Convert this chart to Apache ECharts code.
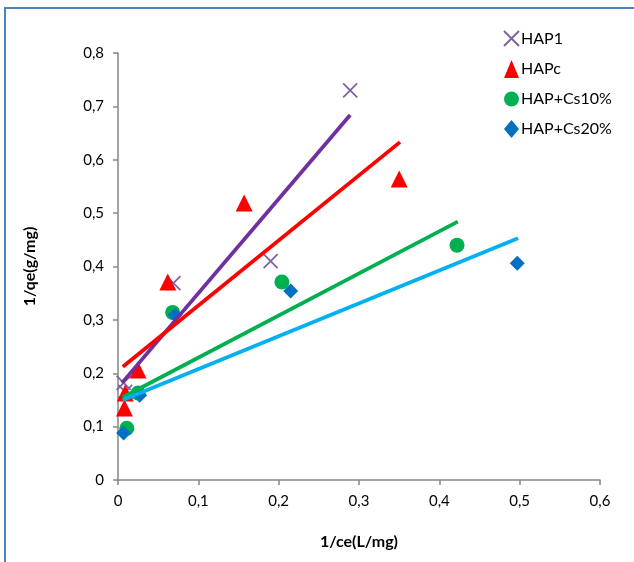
<!DOCTYPE html>
<html><head><meta charset="utf-8">
<script src="https://cdn.jsdelivr.net/npm/echarts@6/dist/echarts.min.js"></script>
<style>html,body{margin:0;padding:0;background:#fff}#c{width:634px;height:562px}</style>
</head><body><div id="c"></div>
<script>
var seriesNames = ['HAP1', 'HAPc', 'HAP+Cs10%', 'HAP+Cs20%'];
var hap1X = [0.007, 0.009, 0.069, 0.190, 0.289];
var hap1Y = [0.182, 0.165, 0.369, 0.410, 0.730];
var hapcX = [0.008, 0.009, 0.025, 0.062, 0.157, 0.350];
var hapcY = [0.135, 0.163, 0.206, 0.371, 0.519, 0.564];
var cs10X = [0.011, 0.025, 0.068, 0.204, 0.422];
var cs10Y = [0.097, 0.163, 0.314, 0.371, 0.440];
var cs20X = [0.007, 0.027, 0.071, 0.215, 0.497];
var cs20Y = [0.088, 0.159, 0.309, 0.354, 0.406];
// trendline endpoints
var trendHap1 = [[0.005, 0.182], [0.289, 0.684]];
var trendHapc = [[0.006, 0.212], [0.351, 0.633]];
var trendCs10 = [[0.006, 0.155], [0.423, 0.484]];
var trendCs20 = [[0.006, 0.150], [0.498, 0.453]];
var xTicks = [0, 0.1, 0.2, 0.3, 0.4, 0.5, 0.6];
var yTicks = [0, 0.1, 0.2, 0.3, 0.4, 0.5, 0.6, 0.7, 0.8];

function zip(a, b) { return a.map(function (v, i) { return [v, b[i]]; }); }
function fmt(v) { return v === 0 ? '0' : String(Math.round(v * 10) / 10).replace('.', ','); }

var FONT = 'Lato';
var xPath = 'path://M0,0L10,10M10,0L0,10';
var chart = echarts.init(document.getElementById('c'));
var axisLine = { show: true, lineStyle: { color: '#868686', width: 1.5 } };
chart.setOption({
  animation: false,
  backgroundColor: '#fff',
  graphic: [{ type: 'rect', shape: { x: 5, y: 8, width: 800, height: 800 }, style: { fill: 'none', stroke: '#4F81BD', lineWidth: 2 }, z: -1 }],
  grid: { left: 118, right: 34, top: 53, bottom: 82 },
  legend: {
    orient: 'vertical', left: 498, top: 25, itemGap: 13, itemWidth: 15, itemHeight: 18,
    data: [
      { name: 'HAP1', icon: xPath },
      { name: 'HAPc', icon: 'triangle' },
      { name: 'HAP+Cs10%', icon: 'circle' },
      { name: 'HAP+Cs20%', icon: 'diamond' }
    ],
    textStyle: { fontFamily: FONT, fontSize: 16, color: '#000', padding: [0, 0, 0, -3] }
  },
  xAxis: {
    type: 'value', min: 0, max: 0.6, interval: 0.1,
    name: '1/ce(L/mg)', nameLocation: 'middle', nameGap: 54,
    nameTextStyle: { fontFamily: FONT, fontSize: 16, fontWeight: 'bold', color: '#000' },
    axisLine: axisLine, axisTick: { show: true, inside: false, length: 5, lineStyle: { color: '#868686', width: 1.5 } },
    axisLabel: { fontFamily: FONT, fontSize: 15, color: '#000', margin: 14, formatter: fmt },
    splitLine: { show: false }
  },
  yAxis: {
    type: 'value', min: 0, max: 0.8, interval: 0.1,
    name: '1/qe(g/mg)', nameLocation: 'middle', nameGap: 80, nameRotate: 90,
    nameTextStyle: { fontFamily: FONT, fontSize: 16, fontWeight: 'bold', color: '#000' },
    axisLine: axisLine, axisTick: { show: true, inside: false, length: 5, lineStyle: { color: '#868686', width: 1.5 } },
    axisLabel: { fontFamily: FONT, fontSize: 15, color: '#000', margin: 14, formatter: fmt },
    splitLine: { show: false }
  },
  series: [
    { name: 'HAP1', type: 'scatter', data: zip(hap1X, hap1Y), symbol: xPath, symbolSize: 14,
      itemStyle: { color: '#8064A2', borderColor: '#8064A2', borderWidth: 1.8, opacity: 1 }, z: 2 },
    { name: 'HAPc', type: 'scatter', data: zip(hapcX, hapcY), symbol: 'triangle', symbolSize: 17,
      itemStyle: { color: '#FF0000', opacity: 1 }, z: 2 },
    { name: 'HAP+Cs10%', type: 'scatter', data: zip(cs10X, cs10Y), symbol: 'circle', symbolSize: 15,
      itemStyle: { color: '#00B050', opacity: 1 }, z: 2 },
    { name: 'HAP+Cs20%', type: 'scatter', data: zip(cs20X, cs20Y), symbol: 'diamond', symbolSize: 15,
      itemStyle: { color: '#0070C0', opacity: 1 }, z: 2 },
    { name: 't1', type: 'line', data: trendHap1, symbol: 'none', lineStyle: { color: '#7030A0', width: 3.8 }, z: 3 },
    { name: 't2', type: 'line', data: trendHapc, symbol: 'none', lineStyle: { color: '#FF0000', width: 3.8 }, z: 3 },
    { name: 't3', type: 'line', data: trendCs10, symbol: 'none', lineStyle: { color: '#00B050', width: 3.8 }, z: 3 },
    { name: 't4', type: 'line', data: trendCs20, symbol: 'none', lineStyle: { color: '#00B0F0', width: 3.8 }, z: 3 }
  ]
});
</script></body></html>
